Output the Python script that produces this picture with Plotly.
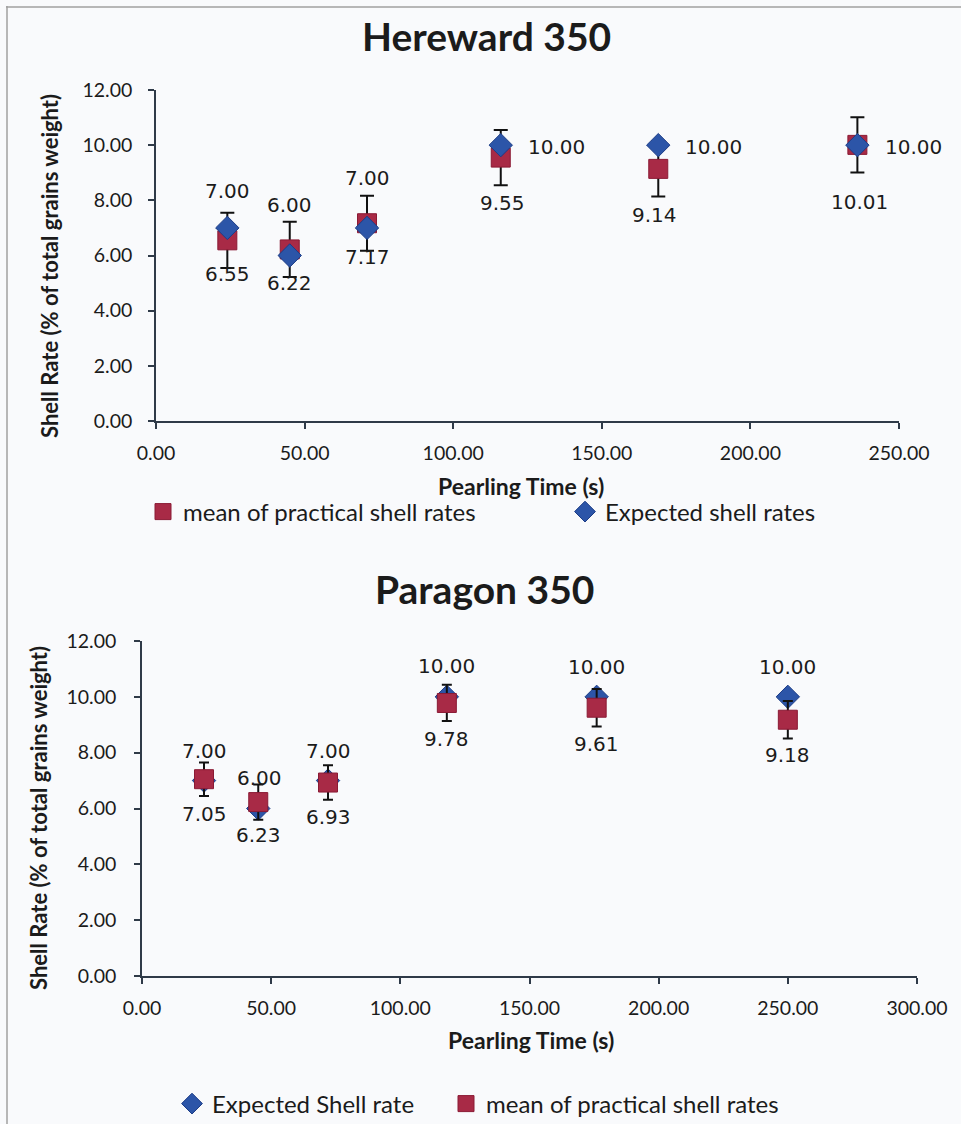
import plotly.graph_objects as go

W, H = 961, 1124

# ---------------- data ----------------
# Hereward 350
h_time = [24, 45, 71, 116, 169, 236]
h_expected = [7.00, 6.00, 7.00, 10.00, 10.00, 10.00]
h_practical = [6.55, 6.22, 7.17, 9.55, 9.14, 10.01]
h_err = [1.00, 1.00, 1.00, 1.00, 1.00, 1.00]

# Paragon 350
p_time = [24, 45, 72, 118, 176, 250]
p_expected = [7.00, 6.00, 7.00, 10.00, 10.00, 10.00]
p_practical = [7.05, 6.23, 6.93, 9.78, 9.61, 9.18]
p_err = [0.60, 0.63, 0.62, 0.65, 0.67, 0.67]

y_ticks = [0, 2, 4, 6, 8, 10, 12]
h_x_ticks = [0, 50, 100, 150, 200, 250]
p_x_ticks = [0, 50, 100, 150, 200, 250, 300]

# ---------------- styles ----------------
RED_FILL, RED_LINE = "#A82A46", "#8A1A34"
BLUE_FILL, BLUE_LINE = "#2C55A8", "#1C3C86"
AXIS_COL = "#2f3a48"
TXT = "#1b1b1b"
AX_FONT = "Lato"
LBL_FONT = "DejaVu Sans"


def px(x):
    return x / W


def py(y):
    return 1 - y / H


fig = go.Figure()

# ----- top chart: practical first (drawn below), expected on top -----
fig.add_trace(go.Scatter(
    x=h_time, y=h_practical, mode="markers", name="mean of practical shell rates",
    marker=dict(symbol="square", size=19, color=RED_FILL, line=dict(color=RED_LINE, width=1)),
    error_y=dict(type="data", array=h_err, visible=True, color="#111111", thickness=2, width=7),
    xaxis="x", yaxis="y", legend="legend", showlegend=True, cliponaxis=False))
fig.add_trace(go.Scatter(
    x=h_time, y=h_expected, mode="markers", name="Expected shell rates",
    marker=dict(symbol="diamond", size=18, color=BLUE_FILL, line=dict(color=BLUE_LINE, width=1)),
    xaxis="x", yaxis="y", legend="legend2", showlegend=True, cliponaxis=False))

# ----- bottom chart: expected first, practical on top -----
fig.add_trace(go.Scatter(
    x=p_time, y=p_expected, mode="markers", name="Expected Shell rate",
    marker=dict(symbol="diamond", size=18, color=BLUE_FILL, line=dict(color=BLUE_LINE, width=1)),
    xaxis="x2", yaxis="y2", legend="legend3", showlegend=True, cliponaxis=False))
fig.add_trace(go.Scatter(
    x=p_time, y=p_practical, mode="markers", name="mean of practical shell rates",
    marker=dict(symbol="square", size=19, color=RED_FILL, line=dict(color=RED_LINE, width=1)),
    error_y=dict(type="data", array=p_err, visible=True, color="#111111", thickness=2, width=5),
    xaxis="x2", yaxis="y2", legend="legend4", showlegend=True, cliponaxis=False))

# ----- data labels -----
annotations = []


def add_labels(xs, ys, xref, yref, xshifts, yshifts):
    for xv, yv, dx, dy in zip(xs, ys, xshifts, yshifts):
        annotations.append(dict(
            x=xv, y=yv, xref=xref, yref=yref, text=f"{yv:.2f}", showarrow=False,
            xanchor="center", yanchor="middle",
            xshift=dx, yshift=dy, font=dict(family=LBL_FONT, size=20, color=TXT)))


add_labels(h_time, h_expected, "x", "y", [0, 0, 0, 56, 55, 56], [37, 51, 50, -2, -2, -2])
add_labels(h_time, h_practical, "x", "y", [0, 0, 0, 2, -4, 2], [-34, -34, -34, -45, -46, -57])
add_labels(p_time, p_expected, "x2", "y2", [0, 1, 0, 0, 0, 0], [30, 31, 30, 31, 30, 30])
add_labels(p_time, p_practical, "x2", "y2", [0, 0, 0, 0, 0, 0], [-35, -33, -34, -36, -36, -35])


def paper_text(text, x, y, size, angle=0):
    return dict(text=text, x=px(x), y=py(y), xref="paper", yref="paper",
                xanchor="center", yanchor="middle", showarrow=False, textangle=angle,
                font=dict(family=AX_FONT, size=size, color=TXT))


annotations += [
    paper_text("<b>Hereward 350</b>", 486, 36, 39),
    paper_text("<b>Paragon 350</b>", 484, 589, 39),
    paper_text("<b>Pearling Time (s)</b>", 521, 486, 23),
    paper_text("<b>Pearling Time (s)</b>", 531, 1040, 23),
    paper_text("<b>Shell Rate (% of total grains weight)</b>", 50, 266, 22, -90),
    paper_text("<b>Shell Rate (% of total grains weight)</b>", 38, 818, 22, -90),
]

axis_common = dict(showgrid=False, zeroline=False, showline=True, linecolor=AXIS_COL,
                   linewidth=1.5, ticks="outside", ticklen=6, tickwidth=1.5,
                   tickcolor=AXIS_COL, tickformat=".2f", automargin=False,
                   tickfont=dict(family=AX_FONT, size=19.5, color=TXT))

legend_common = dict(orientation="h", xanchor="left", yanchor="middle",
                     bgcolor="rgba(0,0,0,0)", font=dict(family=AX_FONT, size=24, color=TXT))

fig.update_layout(
    width=W, height=H, autosize=False, showlegend=True,
    margin=dict(l=0, r=0, t=0, b=0, pad=0, autoexpand=False),
    paper_bgcolor="#f9fafc", plot_bgcolor="rgba(0,0,0,0)",
    xaxis=dict(domain=[px(156), px(899)], range=[0, 250], tickvals=h_x_ticks,
               anchor="y", ticklabelstandoff=8, **axis_common),
    yaxis=dict(domain=[py(421), py(90)], range=[0, 12], tickvals=y_ticks,
               anchor="x", ticklabelstandoff=12, **axis_common),
    xaxis2=dict(domain=[px(142), px(917)], range=[0, 300], tickvals=p_x_ticks,
                anchor="y2", ticklabelstandoff=8, **axis_common),
    yaxis2=dict(domain=[py(976), py(641)], range=[0, 12], tickvals=y_ticks,
                anchor="x2", ticklabelstandoff=14, **axis_common),
    legend=dict(x=px(143), y=py(512), **legend_common),
    legend2=dict(x=px(565), y=py(512), **legend_common),
    legend3=dict(x=px(172), y=py(1104), **legend_common),
    legend4=dict(x=px(446), y=py(1104), **legend_common),
    annotations=annotations,
    shapes=[
        dict(type="line", xref="paper", yref="paper", x0=px(6), x1=1, y0=py(7), y1=py(7),
             line=dict(color="#a0a0a0", width=1.5)),
        dict(type="line", xref="paper", yref="paper", x0=px(7), x1=px(7), y0=py(6), y1=0,
             line=dict(color="#a0a0a0", width=1.5)),
    ],
)

fig.write_html("out.html")
